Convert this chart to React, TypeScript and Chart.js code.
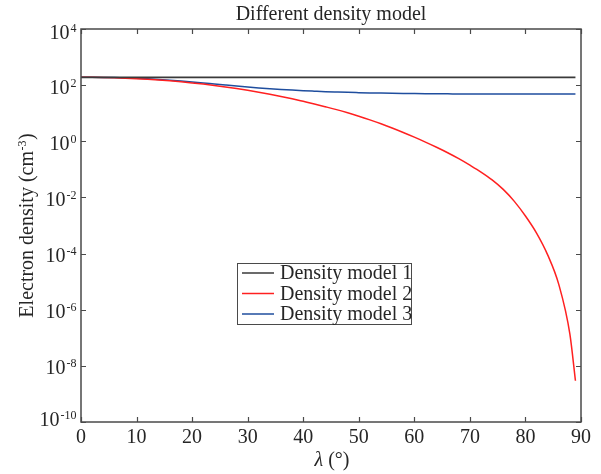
import React, { useEffect, useRef } from "react";
import { Chart, registerables } from "chart.js";

Chart.register(...registerables);

// ---- data ----
const lambdaDeg = [
  0, 2, 4, 6, 8, 10, 12, 14, 16, 18, 20, 22, 24, 26, 28, 30, 32, 34, 36, 38, 40, 42, 44,
  46, 48, 50, 52, 54, 56, 58, 60, 62, 64, 66, 68, 70, 72, 74, 76, 78, 80, 82, 84, 86, 88, 89,
];

const densityModel1 = [
  190, 190, 190, 190, 190, 190, 190, 190, 190, 190, 190, 190, 190, 190, 190, 190, 190, 190, 190, 190, 190, 190, 190,
  190, 190, 190, 190, 190, 190, 190, 190, 190, 190, 190, 190, 190, 190, 190, 190, 190, 190, 190, 190, 190, 190, 190,
];

const densityModel2 = [
  190.5, 189.7, 187.1, 182.8, 177.4, 170.2, 161.8, 152.4, 142.2, 131.5, 120.2, 108.9, 97.5, 86.5, 75.9, 65.8,
  56.2, 47.5, 39.7, 32.7, 26.5, 21.4, 17.0, 13.4, 10.35, 7.83, 5.79, 4.2, 2.97, 2.06, 1.4, 0.935, 0.612, 0.391,
  0.24, 0.141, 0.0802, 0.0422, 0.0193, 0.00724, 0.00218, 5.37e-4, 8.99e-5, 7.98e-6, 1.35e-7, 2.95e-9,
];

const densityModel3 = [
  190.5, 190.1, 188.4, 185.4, 181.1, 175.8, 169.0, 160.3, 150.7, 140.3, 129.7, 119.4, 109.6, 100.7, 92.7, 85.7,
  79.6, 74.5, 70.1, 66.5, 63.5, 61.0, 58.7, 56.9, 55.3, 54.1, 53.0, 52.0, 51.2, 50.5, 49.9, 49.4, 49.1, 48.9,
  48.6, 48.5, 48.4, 48.4, 48.4, 48.4, 48.4, 48.4, 48.4, 48.4, 48.4, 48.4,
];

const seriesLabels = ["Density model 1", "Density model 2", "Density model 3"];
const seriesColors = ["#3a3a3a", "#ff2020", "#1f4e9e"];

const xTicks = [0, 10, 20, 30, 40, 50, 60, 70, 80, 90];
const yTickExponents = [-10, -8, -6, -4, -2, 0, 2, 4];
const yTickBase = "10";

const chartTitle = "Different density model";
const yTitleMain = "Electron density (cm";
const yTitleSup = "-3";
const yTitleEnd = ")";
const xTitleSymbol = "λ";
const xTitleRest = " (°)";

// ---- styles ----
const FONT = '"Liberation Serif", "Times New Roman", serif';
const TEXT = "#262626";
const AXIS = "#4a4a4a";
const FS = 20;
const FS_SUP = 12;

const decorPlugin = {
  id: "decor",
  afterDraw(chart: any) {
    const { ctx, chartArea: a, scales } = chart;
    const xs = scales.x;
    const ys = scales.y;
    ctx.save();

    // frame
    ctx.strokeStyle = AXIS;
    ctx.lineWidth = 1.5;
    ctx.strokeRect(a.left, a.top, a.right - a.left, a.bottom - a.top);

    // inward ticks on all four sides
    const tl = 5;
    ctx.lineWidth = 1.2;
    ctx.beginPath();
    for (const v of xTicks) {
      const p = Math.round(xs.getPixelForValue(v)) + 0.5;
      ctx.moveTo(p, a.bottom);
      ctx.lineTo(p, a.bottom - tl);
      ctx.moveTo(p, a.top);
      ctx.lineTo(p, a.top + tl);
    }
    for (const e of yTickExponents) {
      const p = Math.round(ys.getPixelForValue(Math.pow(10, e))) + 0.5;
      ctx.moveTo(a.left, p);
      ctx.lineTo(a.left + tl, p);
      ctx.moveTo(a.right, p);
      ctx.lineTo(a.right - tl, p);
    }
    ctx.stroke();

    ctx.fillStyle = TEXT;

    // x tick labels
    ctx.font = `${FS}px ${FONT}`;
    ctx.textAlign = "center";
    ctx.textBaseline = "alphabetic";
    for (const v of xTicks) {
      ctx.fillText(String(v), xs.getPixelForValue(v), a.bottom + 21);
    }

    // y tick labels 10^e
    const rightEdge = a.left - 4.5;
    for (let i = 0; i < yTickExponents.length; i++) {
      const e = yTickExponents[i];
      const p = ys.getPixelForValue(Math.pow(10, e));
      let base = p + 8.5;
      if (i === 0) base = p + 4;
      if (i === yTickExponents.length - 1) base = p + 9.5;
      const sup = String(e);
      ctx.font = `${FS_SUP}px ${FONT}`;
      const wSup = ctx.measureText(sup).width;
      ctx.font = `${FS}px ${FONT}`;
      const wBase = ctx.measureText(yTickBase).width;
      ctx.textAlign = "left";
      const x0 = rightEdge - wSup - 1 - wBase;
      ctx.fillText(yTickBase, x0, base);
      ctx.font = `${FS_SUP}px ${FONT}`;
      ctx.fillText(sup, x0 + wBase + 1, base - 7);
    }

    // title
    ctx.font = `${FS}px ${FONT}`;
    ctx.textAlign = "center";
    ctx.fillText(chartTitle, (a.left + a.right) / 2, a.top - 9);

    // x title
    ctx.textAlign = "left";
    ctx.font = `italic ${FS}px ${FONT}`;
    const wSym = ctx.measureText(xTitleSymbol).width;
    ctx.font = `${FS}px ${FONT}`;
    const wRest = ctx.measureText(xTitleRest).width;
    const xc = (a.left + a.right) / 2 + 1;
    const xStart = xc - (wSym + wRest) / 2;
    ctx.font = `italic ${FS}px ${FONT}`;
    ctx.fillText(xTitleSymbol, xStart, a.bottom + 44);
    ctx.font = `${FS}px ${FONT}`;
    ctx.fillText(xTitleRest, xStart + wSym, a.bottom + 44);

    // y title (rotated)
    ctx.save();
    ctx.translate(33, (a.top + a.bottom) / 2);
    ctx.rotate(-Math.PI / 2);
    ctx.font = `${FS}px ${FONT}`;
    const w1 = ctx.measureText(yTitleMain).width;
    const w3 = ctx.measureText(yTitleEnd).width;
    ctx.font = `${FS_SUP}px ${FONT}`;
    const w2 = ctx.measureText(yTitleSup).width;
    let tx = -(w1 + w2 + w3 + 1) / 2;
    ctx.textAlign = "left";
    ctx.font = `${FS}px ${FONT}`;
    ctx.fillText(yTitleMain, tx, 0);
    tx += w1 + 0.5;
    ctx.font = `${FS_SUP}px ${FONT}`;
    ctx.fillText(yTitleSup, tx, -7);
    tx += w2 + 0.5;
    ctx.font = `${FS}px ${FONT}`;
    ctx.fillText(yTitleEnd, tx, 0);
    ctx.restore();

    // legend box
    const lx = 237, ly = 263, lw = 174, lh = 61;
    ctx.fillStyle = "#ffffff";
    ctx.fillRect(lx, ly, lw, lh);
    ctx.strokeStyle = AXIS;
    ctx.lineWidth = 1;
    ctx.strokeRect(lx + 0.5, ly + 0.5, lw, lh);
    const rowY = [273, 293.5, 314];
    chart.data.datasets.forEach((ds: any, i: number) => {
      ctx.strokeStyle = ds.borderColor;
      ctx.lineWidth = 1.5;
      ctx.beginPath();
      ctx.moveTo(242, rowY[i]);
      ctx.lineTo(274, rowY[i]);
      ctx.stroke();
      ctx.fillStyle = TEXT;
      ctx.font = `${FS}px ${FONT}`;
      ctx.textAlign = "left";
      ctx.textBaseline = "middle";
      ctx.fillText(ds.label, 280, rowY[i] + 1);
    });

    ctx.restore();
  },
};

export default function App() {
  const canvasRef = useRef<HTMLCanvasElement | null>(null);

  useEffect(() => {
    if (!canvasRef.current) return;
    const allSeries = [densityModel1, densityModel2, densityModel3];
    const chart = new Chart(canvasRef.current, {
      type: "line",
      data: {
        datasets: allSeries.map((vals, i) => ({
          label: seriesLabels[i],
          data: lambdaDeg.map((x, j) => ({ x, y: vals[j] })),
          borderColor: seriesColors[i],
          backgroundColor: seriesColors[i],
          borderWidth: i === 0 ? 1.8 : 1.5,
          pointRadius: 0,
          fill: false,
          cubicInterpolationMode: "monotone" as const,
        })),
      },
      options: {
        responsive: false,
        animation: false,
        layout: { padding: { top: 29, right: 20, left: 0, bottom: 0 } },
        plugins: {
          legend: { display: false },
          tooltip: { enabled: false },
          title: { display: false },
        },
        scales: {
          x: {
            type: "linear",
            min: 0,
            max: 90,
            ticks: { display: false },
            grid: { display: false },
            border: { display: false },
            afterFit: (s: any) => {
              s.height = 52;
            },
          },
          y: {
            type: "logarithmic",
            min: 1e-10,
            max: 1e4,
            ticks: { display: false },
            grid: { display: false },
            border: { display: false },
            afterFit: (s: any) => {
              s.width = 81;
            },
          },
        },
      },
      plugins: [decorPlugin],
    });
    return () => chart.destroy();
  }, []);

  return (
    <div style={{ position: "absolute", left: 0, top: 0, width: 601, height: 474, background: "#fff" }}>
      <canvas ref={canvasRef} width={601} height={474} />
    </div>
  );
}
